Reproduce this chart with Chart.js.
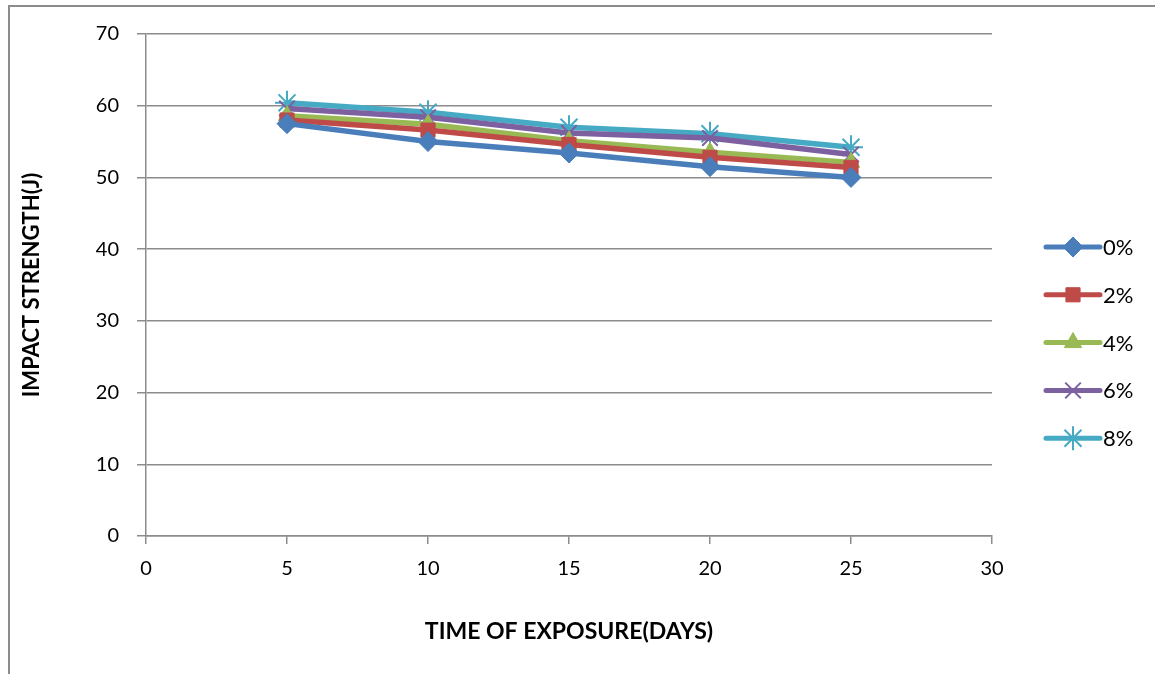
<!DOCTYPE html>
<html>
<head>
<meta charset="utf-8">
<script src="https://cdn.jsdelivr.net/npm/chart.js@4/dist/chart.umd.min.js"></script>
<style>
html,body{margin:0;padding:0;background:#fff;}
#wrap{position:relative;width:1155px;height:674px;overflow:hidden;}
#frame{position:absolute;left:8px;top:5px;width:1200px;height:700px;border-left:2px solid #8c8c8c;border-top:2px solid #8c8c8c;box-sizing:border-box;pointer-events:none;}
canvas{position:absolute;left:0;top:0;}
</style>
</head>
<body>
<div id="wrap">
<canvas id="c" width="1155" height="674"></canvas>
<div id="frame"></div>
</div>
<script>
const days = [5, 10, 15, 20, 25];
const seriesNames = ['0%', '2%', '4%', '6%', '8%'];
const s0 = [57.5, 55.0, 53.4, 51.5, 50.0];
const s2 = [58.0, 56.6, 54.6, 52.8, 51.4];
const s4 = [58.6, 57.4, 55.1, 53.5, 52.1];
const s6 = [59.6, 58.4, 56.2, 55.5, 53.2];
const s8 = [60.4, 59.1, 57.0, 56.1, 54.2];
const yTicks = [0, 10, 20, 30, 40, 50, 60, 70];
const xTicks = [0, 5, 10, 15, 20, 25, 30];

const colors = ['#4A7EBB', '#BE4B48', '#98B954', '#7D60A0', '#46AAC5'];
const styles = ['rectRot', 'rect', 'triangle', 'crossRot', 'star'];
const radii = [10, 10, 10, 11, 12];
const allSeries = [s0, s2, s4, s6, s8];

const datasets = allSeries.map((s, i) => ({
  label: seriesNames[i],
  data: days.map((d, j) => ({x: d, y: s[j]})),
  borderColor: colors[i],
  backgroundColor: colors[i],
  borderWidth: 5.5,
  pointStyle: styles[i],
  pointRadius: radii[i],
  pointBorderWidth: (styles[i] === 'crossRot' || styles[i] === 'star') ? 2 : 1,
  pointHoverRadius: radii[i],
  tension: 0
}));

const FONT = 'Lato, "Liberation Sans", sans-serif';

const legendPlugin = {
  id: 'customLegend',
  afterDraw(chart) {
    const ctx = chart.ctx;
    const x0 = 1046, x1 = 1100, xm = 1073;
    chart.data.datasets.forEach((ds, i) => {
      const y = 247 + i * 47.8;
      ctx.save();
      ctx.strokeStyle = ds.borderColor;
      ctx.lineWidth = 5;
      ctx.lineCap = 'round';
      ctx.beginPath(); ctx.moveTo(x0, y); ctx.lineTo(x1, y); ctx.stroke();
      ctx.restore();
      ctx.save();
      ctx.lineWidth = ds.pointBorderWidth;
      ctx.strokeStyle = ds.borderColor;
      ctx.fillStyle = ds.backgroundColor;
      Chart.helpers.drawPoint(ctx, {pointStyle: ds.pointStyle, radius: ds.pointRadius, rotation: 0, borderWidth: ds.pointBorderWidth}, xm, y);
      ctx.restore();
      ctx.save();
      ctx.fillStyle = '#000';
      ctx.font = '22px ' + FONT;
      ctx.textBaseline = 'middle';
      ctx.textAlign = 'left';
      ctx.fillText(ds.label, 1103, y + 1);
      ctx.restore();
    });
  }
};

new Chart(document.getElementById('c'), {
  type: 'line',
  data: {datasets},
  plugins: [legendPlugin],
  options: {
    responsive: false,
    animation: false,
    layout: {padding: {left: 10, right: 163, top: 34, bottom: 26}},
    plugins: {legend: {display: false}, tooltip: {enabled: false}},
    scales: {
      x: {
        type: 'linear', min: 0, max: 30,
        afterBuildTicks(scale) { scale.ticks = xTicks.map(v => ({value: v})); },
        afterFit(scale) { scale.height = 112; },
        grid: {drawOnChartArea: false, drawTicks: true, tickLength: 8, color: '#8c8c8c', lineWidth: 1.5},
        border: {color: '#8c8c8c', width: 1.5},
        ticks: {color: '#000', font: {size: 20, family: FONT}, padding: 13, maxRotation: 0},
        title: {display: true, text: 'TIME OF EXPOSURE(DAYS)', color: '#000', font: {size: 23, weight: 'bold', family: FONT}, padding: {top: 4, bottom: 3}}
      },
      y: {
        type: 'linear', min: 0, max: 70,
        afterBuildTicks(scale) { scale.ticks = yTicks.map(v => ({value: v})); },
        afterFit(scale) { scale.width = 136; },
        grid: {drawTicks: true, tickLength: 9, color: '#8c8c8c', lineWidth: 1.5},
        border: {color: '#8c8c8c', width: 1.5},
        ticks: {color: '#000', font: {size: 20, family: FONT}, padding: 18},
        title: {display: true, text: 'IMPACT STRENGTH(J)', color: '#000', font: {size: 22, weight: 'bold', family: FONT}, padding: {top: 9, bottom: 4}}
      }
    }
  }
});
</script>
</body>
</html>
